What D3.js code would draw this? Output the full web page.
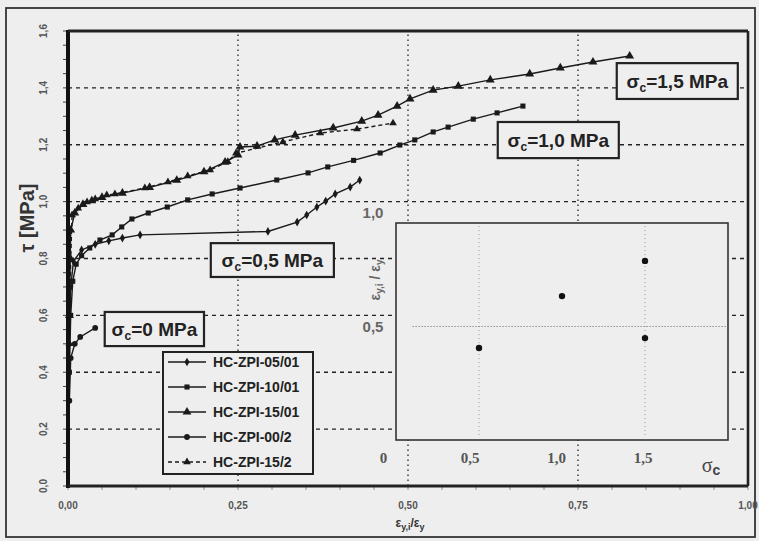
<!DOCTYPE html>
<html><head><meta charset="utf-8">
<script src="https://cdn.jsdelivr.net/npm/d3@7"></script>
<style>html,body{margin:0;padding:0;background:#eeeeee;} svg{display:block;}</style>
</head><body><svg id="c" width="759" height="541"></svg>
<script>
// ---------- data ----------
const xTicks = [0, 0.25, 0.5, 0.75, 1.0];
const xTickLabels = ["0,00", "0,25", "0,50", "0,75", "1,00"];
const yTicks = [0, 0.2, 0.4, 0.6, 0.8, 1.0, 1.2, 1.4, 1.6];
const yTickLabels = ["0,0", "0,2", "0,4", "0,6", "0,8", "1,0", "1,2", "1,4", "1,6"];
const gridY = [0.2, 0.4, 0.6, 0.8, 1.0, 1.2, 1.4];
const gridX = [0.25, 0.5, 0.75];
const seriesNames = ["HC-ZPI-05/01", "HC-ZPI-10/01", "HC-ZPI-15/01", "HC-ZPI-00/2", "HC-ZPI-15/2"];

const s0501 = [[0,0],[0.002,0.5],[0.004,0.7],[0.008,0.79],[0.02,0.83],[0.04,0.85],[0.06,0.862],[0.08,0.872],[0.106,0.883],
  [0.294,0.895],[0.337,0.928],[0.351,0.953],[0.366,0.981],[0.379,1.002],[0.393,1.027],[0.415,1.051],[0.429,1.076]];
const s1001 = [[0,0],[0.002,0.4],[0.004,0.6],[0.007,0.72],[0.012,0.78],[0.02,0.81],[0.032,0.837],[0.047,0.865],[0.065,0.883],
  [0.079,0.911],[0.094,0.939],[0.118,0.960],[0.146,0.981],[0.176,1.006],[0.212,1.027],[0.253,1.048],[0.307,1.076],
  [0.353,1.101],[0.382,1.122],[0.42,1.145],[0.459,1.171],[0.488,1.199],[0.510,1.217],[0.537,1.245],[0.559,1.262],
  [0.596,1.290],[0.631,1.312],[0.669,1.336]];
const s1501 = [[0,0],[0.002,0.6],[0.004,0.9],[0.01,0.96],[0.022,0.99],[0.035,1.003],[0.05,1.015],[0.08,1.03],[0.12,1.05],
  [0.16,1.075],[0.2,1.105],[0.231,1.139],[0.25,1.164],[0.253,1.192],[0.278,1.195],[0.304,1.217],[0.334,1.234],
  [0.39,1.259],[0.432,1.283],[0.456,1.304],[0.484,1.336],[0.503,1.361],[0.537,1.392],[0.574,1.406],[0.621,1.428],
  [0.679,1.449],[0.724,1.470],[0.772,1.491],[0.826,1.512]];
const s002 = [[0,0],[0.002,0.3],[0.004,0.45],[0.01,0.5],[0.018,0.524],[0.040,0.556]];
const s152 = [[0,0],[0.002,0.5],[0.004,0.8],[0.006,0.953],[0.015,0.977],[0.028,0.999],[0.040,1.009],[0.057,1.023],
  [0.069,1.027],[0.113,1.048],[0.147,1.069],[0.176,1.090],[0.209,1.111],[0.235,1.14],[0.247,1.17],[0.316,1.210],
  [0.371,1.241],[0.425,1.255],[0.478,1.276]];

const annotationValues = ["1,5", "1,0", "0,5", "0"];

const insetSigma = [0.5, 1.0, 1.5, 1.5];
const insetRatio = [0.405, 0.634, 0.789, 0.449];
const insetXTicks = [0, 0.5, 1.0, 1.5];
const insetXTickLabels = ["0", "0,5", "1,0", "1,5"];
const insetYTicks = [0.5, 1.0];
const insetYTickLabels = ["0,5", "1,0"];

// ---------- drawing ----------
const svg = d3.select("#c");
const BG = "#eeeeee";
const INK = "#1a1a1a";
const W = 759, H = 541;
svg.append("rect").attr("width", W).attr("height", H).attr("fill", BG);

const x = d3.scaleLinear().domain([0, 1]).range([68, 748]);
const y = d3.scaleLinear().domain([0, 1.6]).range([486, 31]);

// outer frame
svg.append("rect").attr("x", 6).attr("y", 8).attr("width", 749).attr("height", 529)
  .attr("fill", "none").attr("stroke", "#333").attr("stroke-width", 1.8);

// grid
const grid = svg.append("g");
grid.selectAll("line.gy").data(gridY).join("line")
  .attr("x1", x(0)).attr("x2", x(1)).attr("y1", d => y(d)).attr("y2", d => y(d))
  .attr("stroke", "#222").attr("stroke-width", 1.4).attr("stroke-dasharray", "4,4");
grid.selectAll("line.gx").data(gridX).join("line")
  .attr("y1", y(0)).attr("y2", y(1.6)).attr("x1", d => x(d)).attr("x2", d => x(d))
  .attr("stroke", "#333").attr("stroke-width", 1.4).attr("stroke-dasharray", "1.5,3.5");

// minor ticks on axes
svg.append("g").selectAll("line").data(d3.range(0, 1.6001, 0.05)).join("line")
  .attr("x1", x(0) - 5).attr("x2", x(0)).attr("y1", d => y(d)).attr("y2", d => y(d))
  .attr("stroke", "#444").attr("stroke-width", 1);
svg.append("g").selectAll("line").data(d3.range(0, 1.0001, 0.05)).join("line")
  .attr("y1", y(0)).attr("y2", y(0) + 4).attr("x1", d => x(d)).attr("x2", d => x(d))
  .attr("stroke", "#777").attr("stroke-width", 0.8);

// curves
const line = d3.line().x(d => x(d[0])).y(d => y(d[1]));
const seriesData = [s0501, s1001, s1501, s002, s152];
const symbols = [d3.symbolDiamond, d3.symbolSquare, d3.symbolTriangle, d3.symbolCircle, d3.symbolTriangle];
const symSizes = [22, 26, 34, 26, 26];
const dashes = [null, null, null, null, "4,3"];
const curves = svg.append("g");
seriesData.forEach((s, i) => {
  curves.append("path").attr("d", line(s)).attr("fill", "none").attr("stroke", INK)
    .attr("stroke-width", 1.4).attr("stroke-dasharray", dashes[i]);
  curves.selectAll(null).data(s.slice(1)).join("path")
    .attr("transform", d => `translate(${x(d[0])},${y(d[1])})`)
    .attr("d", d3.symbol(symbols[i], symSizes[i])).attr("fill", INK);
});

// plot frame
svg.append("line").attr("x1", x(0)).attr("x2", x(0)).attr("y1", y(1.6) - 1).attr("y2", y(0) + 2)
  .attr("stroke", "#111").attr("stroke-width", 4);
svg.append("line").attr("x1", x(0)).attr("x2", x(1)).attr("y1", y(1.6)).attr("y2", y(1.6))
  .attr("stroke", "#222").attr("stroke-width", 3);
svg.append("line").attr("x1", x(1)).attr("x2", x(1)).attr("y1", y(1.6)).attr("y2", y(0))
  .attr("stroke", "#222").attr("stroke-width", 2.6);
svg.append("line").attr("x1", x(0)).attr("x2", x(1)).attr("y1", y(0)).attr("y2", y(0))
  .attr("stroke", "#222").attr("stroke-width", 3);

// tick labels
svg.append("g").selectAll("text").data(xTicks).join("text")
  .attr("x", d => x(d)).attr("y", 509).attr("text-anchor", "middle")
  .attr("font-family", "Liberation Sans, Arial, sans-serif").attr("font-weight", "bold")
  .attr("font-size", 10).attr("fill", "#555").text((d, i) => xTickLabels[i]);
svg.append("g").selectAll("text").data(yTicks).join("text")
  .attr("transform", d => `translate(47,${y(d)}) rotate(-90)`).attr("text-anchor", "middle")
  .attr("font-family", "Liberation Sans, Arial, sans-serif").attr("font-weight", "bold")
  .attr("font-size", 10).attr("fill", "#555").text((d, i) => yTickLabels[i]);

// axis titles
svg.append("text").attr("transform", "translate(34,218) rotate(-90)").attr("text-anchor", "middle")
  .attr("font-family", "Liberation Sans, Arial, sans-serif").attr("font-weight", "bold")
  .attr("font-size", 20).attr("fill", "#333").text("τ [MPa]");
const xl = svg.append("text").attr("x", 410).attr("y", 527).attr("text-anchor", "middle")
  .attr("font-family", "Liberation Sans, Arial, sans-serif").attr("font-weight", "bold")
  .attr("font-size", 12).attr("fill", "#333");
xl.append("tspan").text("ε");
xl.append("tspan").attr("dy", 3).attr("font-size", 9).text("y,i");
xl.append("tspan").attr("dy", -3).text("/ε");
xl.append("tspan").attr("dy", 3).attr("font-size", 9).text("y");

// annotation boxes (data-space placement)
const annBoxes = [
  [0.807, 0.985, 1.487, 1.361],
  [0.632, 0.810, 1.280, 1.153],
  [0.210, 0.391, 0.854, 0.735],
  [0.054, 0.200, 0.612, 0.492]
];
annotationValues.forEach((v, i) => {
  const b = annBoxes[i];
  const g = svg.append("g");
  g.append("rect").attr("x", x(b[0])).attr("y", y(b[2])).attr("width", x(b[1]) - x(b[0]))
    .attr("height", y(b[3]) - y(b[2])).attr("fill", BG).attr("stroke", "#222").attr("stroke-width", 2.2);
  const t = g.append("text").attr("x", (x(b[0]) + x(b[1])) / 2).attr("y", (y(b[2]) + y(b[3])) / 2 + 7)
    .attr("text-anchor", "middle").attr("font-family", "Liberation Sans, Arial, sans-serif")
    .attr("font-weight", "bold").attr("font-size", 19).attr("fill", "#222");
  t.append("tspan").text("σ");
  t.append("tspan").attr("dy", 4).attr("font-size", 12).text("c");
  t.append("tspan").attr("dy", -4).text("=" + v + " MPa");
});

// legend
const lg = svg.append("g");
lg.append("rect").attr("x", 163).attr("y", 352).attr("width", 150).attr("height", 122)
  .attr("fill", BG).attr("stroke", "#222").attr("stroke-width", 2);
seriesNames.forEach((n, i) => {
  const ly = 362 + i * 25;
  lg.append("line").attr("x1", 168).attr("x2", 206).attr("y1", ly).attr("y2", ly)
    .attr("stroke", INK).attr("stroke-width", 1.4).attr("stroke-dasharray", dashes[i]);
  lg.append("path").attr("transform", `translate(187,${ly})`).attr("d", d3.symbol(symbols[i], symSizes[i])).attr("fill", INK);
  lg.append("text").attr("x", 213).attr("y", ly + 5).attr("font-family", "Liberation Sans, Arial, sans-serif")
    .attr("font-weight", "bold").attr("font-size", 14).attr("fill", "#222").text(n);
});

// inset
const ix = d3.scaleLinear().domain([0, 2]).range([396, 728]);
const iy = d3.scaleLinear().domain([0, 1]).range([440, 213]);
const ixLab = d3.scaleLinear().domain([0.5, 1.5]).range([470, 643]);
const ins = svg.append("g");
ins.append("rect").attr("x", ix(0)).attr("y", 223).attr("width", ix(2) - ix(0)).attr("height", iy(0) - 223)
  .attr("fill", BG).attr("stroke", "#333").attr("stroke-width", 1.6);
ins.selectAll("line.v").data([0.5, 1.5]).join("line")
  .attr("x1", d => ix(d)).attr("x2", d => ix(d)).attr("y1", 226).attr("y2", iy(0) - 3)
  .attr("stroke", "#999").attr("stroke-width", 1).attr("stroke-dasharray", "1,3");
ins.append("line").attr("x1", ix(0.1)).attr("x2", ix(2)).attr("y1", iy(0.5)).attr("y2", iy(0.5))
  .attr("stroke", "#666").attr("stroke-width", 1).attr("stroke-dasharray", "1,2");
ins.selectAll("circle").data(insetSigma).join("circle")
  .attr("cx", d => ix(d)).attr("cy", (d, i) => iy(insetRatio[i])).attr("r", 3.2).attr("fill", "#111");
ins.selectAll("text.xt").data(insetXTicks).join("text")
  .attr("x", d => ixLab(d)).attr("y", 463).attr("text-anchor", "middle")
  .attr("font-family", "Liberation Serif, Times New Roman, serif").attr("font-weight", "bold")
  .attr("font-size", 15).attr("fill", "#555").text((d, i) => insetXTickLabels[i]);
const sc = ins.append("text").attr("x", 711).attr("y", 472).attr("text-anchor", "middle")
  .attr("font-family", "Liberation Serif, Times New Roman, serif").attr("font-size", 20).attr("fill", "#444");
sc.append("tspan").text("σ");
sc.append("tspan").attr("dy", 3).attr("font-size", 14).attr("font-family", "Liberation Sans, Arial, sans-serif").attr("font-weight", "bold").text("c");
ins.selectAll("text.yt").data(insetYTicks).join("text")
  .attr("x", 373).attr("y", d => iy(d) + 5).attr("text-anchor", "middle")
  .attr("font-family", "Liberation Sans, Arial, sans-serif").attr("font-weight", "bold")
  .attr("font-size", 15).attr("fill", "#666").text((d, i) => insetYTickLabels[i]);
const iyl = ins.append("text").attr("transform", "translate(380,280) rotate(-90)").attr("text-anchor", "middle")
  .attr("font-family", "Liberation Sans, Arial, sans-serif").attr("font-weight", "bold")
  .attr("font-size", 14).attr("fill", "#666");
iyl.append("tspan").text("ε");
iyl.append("tspan").attr("dy", 3).attr("font-size", 10).text("y,i");
iyl.append("tspan").attr("dy", -3).text(" / ε");
iyl.append("tspan").attr("dy", 3).attr("font-size", 10).text("y");
</script>
</body></html>
